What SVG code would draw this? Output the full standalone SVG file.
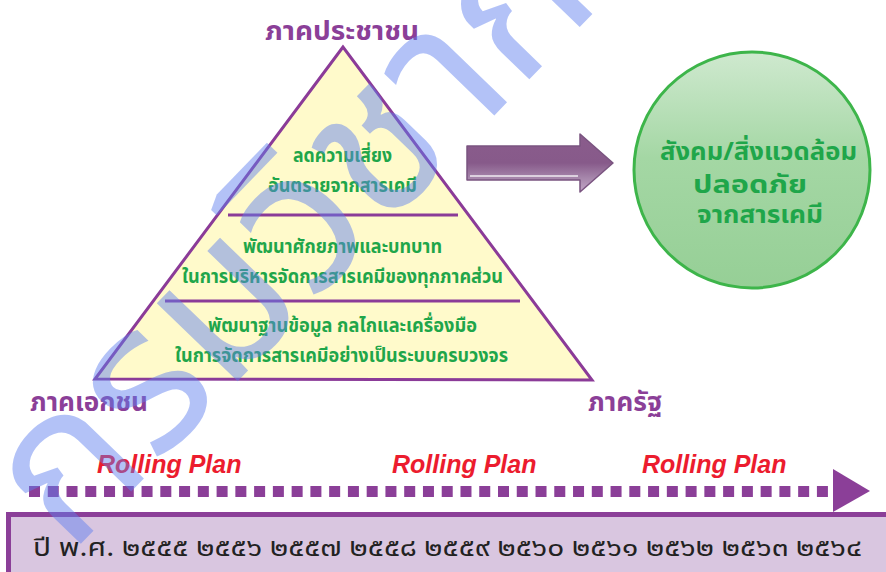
<svg xmlns="http://www.w3.org/2000/svg" width="886" height="572" viewBox="0 0 886 572">
  <defs>
    <linearGradient id="arrowGrad" x1="0" y1="0" x2="0" y2="1">
      <stop offset="0" stop-color="#8a5c8c"/>
      <stop offset="0.5" stop-color="#875a8a"/>
      <stop offset="0.75" stop-color="#a585aa"/>
      <stop offset="1" stop-color="#c4a8c8"/>
    </linearGradient>
    <linearGradient id="circleGrad" x1="0" y1="0" x2="0" y2="1">
      <stop offset="0" stop-color="#cfe9cf"/>
      <stop offset="0.45" stop-color="#a4d7a4"/>
      <stop offset="1" stop-color="#96cf96"/>
    </linearGradient>
    <style>
      .thai { font-family: "Noto Sans Thai", "Noto Sans", "Tahoma", "DejaVu Sans", sans-serif; font-weight: bold; }
      .label { fill: #8b3f98; font-size: 27px; text-anchor: middle; stroke: #ffffff; stroke-width: 3px; paint-order: stroke; stroke-linejoin: round; }
      .tri { fill: #1fa64a; font-size: 19px; text-anchor: middle; }
      .circ { fill: #1fa64a; font-size: 25px; text-anchor: middle; }
      .roll { font-family: "Liberation Sans", Arial, sans-serif; font-weight: bold; font-style: italic; font-size: 25px; fill: #ec1c2e; }
      .purple-line { stroke: #8b3b98; stroke-width: 3; fill: none; }
      .wm { font-family: "Noto Sans Thai", "Noto Sans", "Tahoma", "DejaVu Sans", sans-serif; font-weight: normal; font-size: 205px; fill: #5f80f0; }
    </style>
  </defs>
  <rect width="886" height="572" fill="#ffffff"/>

  <g id="pyramid">
    <polygon points="343,47 95,379 592,380" fill="#fffacb" stroke="#8b3b98" stroke-width="3" stroke-linejoin="miter"/>
    <line class="purple-line" x1="228" y1="215" x2="458" y2="215"/>
    <line class="purple-line" x1="165" y1="301" x2="520" y2="301"/>
  </g>

  <g id="level-top">
    <text class="thai tri" x="342.5" y="162" textLength="99" lengthAdjust="spacingAndGlyphs">ลดความเสี่ยง</text>
    <text class="thai tri" x="342.5" y="192" textLength="149" lengthAdjust="spacingAndGlyphs">อันตรายจากสารเคมี</text>
  </g>
  <g id="level-middle">
    <text class="thai tri" x="342.5" y="253" textLength="199" lengthAdjust="spacingAndGlyphs">พัฒนาศักยภาพและบทบาท</text>
    <text class="thai tri" x="342.5" y="283" textLength="321" lengthAdjust="spacingAndGlyphs">ในการบริหารจัดการสารเคมีของทุกภาคส่วน</text>
  </g>
  <g id="level-bottom">
    <text class="thai tri" x="342.5" y="332" textLength="269" lengthAdjust="spacingAndGlyphs">พัฒนาฐานข้อมูล กลไกและเครื่องมือ</text>
    <text class="thai tri" x="341.5" y="362" textLength="333" lengthAdjust="spacingAndGlyphs">ในการจัดการสารเคมีอย่างเป็นระบบครบวงจร</text>
  </g>

  <g id="label-people">
    <text class="thai label" x="342" y="40" textLength="154" lengthAdjust="spacingAndGlyphs">ภาคประชาชน</text>
  </g>
  <g id="label-private">
    <text class="thai label" x="89" y="411" textLength="118" lengthAdjust="spacingAndGlyphs">ภาคเอกชน</text>
  </g>
  <g id="label-state">
    <text class="thai label" x="625" y="411" textLength="74" lengthAdjust="spacingAndGlyphs">ภาครัฐ</text>
  </g>

  <g id="goal">
    <circle cx="752" cy="170" r="118" fill="url(#circleGrad)" stroke="#3db54a" stroke-width="3"/>
    <text class="thai circ" x="758.5" y="160" textLength="197" lengthAdjust="spacingAndGlyphs">สังคม/สิ่งแวดล้อม</text>
    <text class="thai circ" x="750" y="193" textLength="114" lengthAdjust="spacingAndGlyphs">ปลอดภัย</text>
    <text class="thai circ" x="760" y="223" textLength="126" lengthAdjust="spacingAndGlyphs">จากสารเคมี</text>
  </g>

  <g id="connectors">
    <path d="M467,146 L580,146 L580,134 L613,163 L580,192 L580,180 L467,180 Z" fill="url(#arrowGrad)" stroke="#7a5480" stroke-width="1.5" stroke-linejoin="round"/>
    <path d="M470,176 L578,176" stroke="#ffffff" stroke-width="1.5" opacity="0.85"/>
    <line x1="29" y1="491.5" x2="828" y2="491.5" stroke="#8b3f98" stroke-width="11" stroke-dasharray="11 7.76"/>
    <polygon points="833,469 870,491 833,512" fill="#8b3f98"/>
  </g>

  <g id="rolling">
    <text class="roll" x="97" y="473">Rolling Plan</text>
    <text class="roll" x="392" y="473">Rolling Plan</text>
    <text class="roll" x="642" y="473">Rolling Plan</text>
  </g>

  <g id="year-bar">
    <rect x="8.5" y="514.5" width="900" height="80" fill="#d9c6e0" stroke="#8b3f98" stroke-width="5"/>
    <text x="33" y="556" font-family="Noto Sans Thai, Noto Sans, Tahoma, DejaVu Sans, sans-serif" font-size="25" fill="#222222" textLength="829" lengthAdjust="spacingAndGlyphs">ปี พ.ศ. ๒๕๕๕ ๒๕๕๖ ๒๕๕๗ ๒๕๕๘ ๒๕๕๙ ๒๕๖๐ ๒๕๖๑ ๒๕๖๒ ๒๕๖๓ ๒๕๖๔</text>
  </g>

  <g id="watermark" opacity="0.47">
    <text class="wm" transform="translate(70,555) rotate(-46)">กรมวิชาการเกษตร</text>
  </g>
</svg>
